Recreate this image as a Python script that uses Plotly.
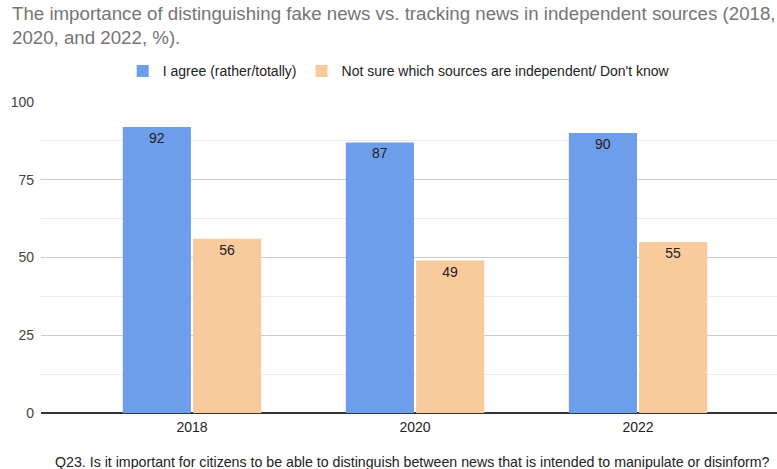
import plotly.graph_objects as go

years = ["2018", "2020", "2022"]
agree = [92, 87, 90]
not_sure = [56, 49, 55]
series_names = ["I agree (rather/totally)", "Not sure which sources are independent/ Don't know"]
y_ticks = [0, 25, 50, 75, 100]

title_text = ("The importance of distinguishing fake news vs. tracking news in independent sources (2018,<br>"
              "2020, and 2022, %).")
footer_text = "Q23. Is it important for citizens to be able to distinguish between news that is intended to manipulate or disinform?"

font_family = "Liberation Sans, Arial, sans-serif"

fig = go.Figure()
fig.add_trace(go.Bar(
    x=years, y=agree, name=series_names[0],
    marker=dict(color="#6d9eeb", line=dict(width=0)),
    text=agree, textposition="inside", insidetextanchor="end",
    textfont=dict(color="#222222", size=14, family=font_family),
))
fig.add_trace(go.Bar(
    x=years, y=not_sure, name=series_names[1],
    marker=dict(color="#f9cb9c", line=dict(width=0)),
    text=not_sure, textposition="inside", insidetextanchor="end",
    textfont=dict(color="#222222", size=14, family=font_family),
))

fig.update_layout(
    width=777, height=469,
    margin=dict(l=41, r=0, t=102, b=56),
    paper_bgcolor="white", plot_bgcolor="white",
    font=dict(family=font_family, color="#444444", size=14),
    barmode="group", bargap=0.37, bargroupgap=0.03,
    legend=dict(orientation="h", x=0.486, xanchor="center", y=1.047, yanchor="bottom",
                font=dict(size=14, color="#222222"), itemwidth=30,
                itemsizing="constant"),
    showlegend=True,
    uniformtext=dict(mode="show", minsize=14),
)

fig.update_xaxes(
    type="category", range=[-0.677, 2.623],
    showgrid=False, ticks="", tickfont=dict(size=14, color="#222222"),
    showline=False, ticklabelstandoff=4,
)
fig.update_yaxes(
    range=[0, 100], tickvals=y_ticks, showgrid=True, gridcolor="#cccccc", gridwidth=1,
    minor=dict(dtick=12.5, showgrid=True, gridcolor="#ebebeb", gridwidth=1),
    zeroline=True, zerolinecolor="#333333", zerolinewidth=2,
    tickfont=dict(size=14, color="#444444"), ticklabelstandoff=6,
)

# Chart title, top-left
fig.add_annotation(
    text=title_text, xref="paper", yref="paper", x=-0.042, xanchor="left",
    y=1.326, yanchor="top", showarrow=False, align="left",
    font=dict(size=18.7, color="#757575", family=font_family),
)

# Question text below the axis
fig.add_annotation(
    text=footer_text, xref="paper", yref="paper", x=0.505, xanchor="center",
    y=-0.127, yanchor="top", showarrow=False,
    font=dict(size=14.2, color="#222222", family=font_family),
)

fig.write_html("out.html")
